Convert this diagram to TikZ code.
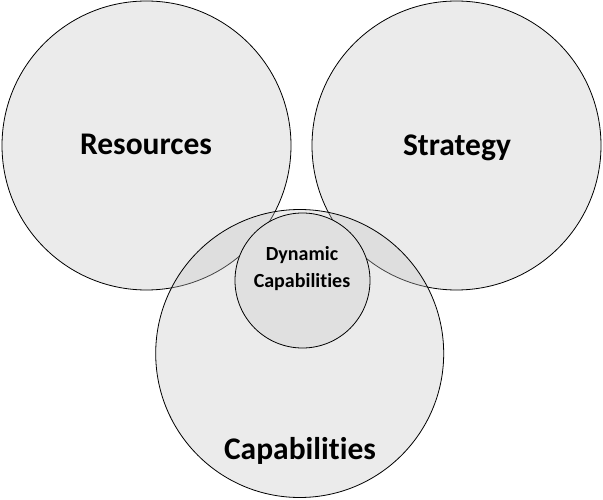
\documentclass[tikz,border=0pt]{standalone}
\usepackage{fontspec}
\setmainfont[Ligatures={NoCommon,NoRare,NoContextual}]{Carlito}
\definecolor{circfill}{HTML}{EBEBEB}
\definecolor{capfill}{HTML}{C6C6C6}
\definecolor{dynfill}{HTML}{E0E0E0}
\begin{document}
\begin{tikzpicture}[x=1pt,y=1pt,
  bigcirc/.style={circle,draw=black,line width=0.8pt,fill=circfill,minimum size=289pt,inner sep=0pt},
  capcirc/.style={circle,draw=black,line width=0.8pt,fill=capfill,fill opacity=0.35,draw opacity=1,minimum size=288pt,inner sep=0pt},
  dyncirc/.style={circle,draw=black,line width=0.8pt,fill=dynfill,minimum size=135pt,inner sep=0pt},
  biglabel/.style={font=\bfseries\fontsize{31.5}{38}\selectfont,inner sep=0pt,anchor=base},
  smalllabel/.style={font=\bfseries\fontsize{20}{27}\selectfont,inner sep=0pt,align=center}]
\useasboundingbox (0,0) rectangle (603,499);
\node[bigcirc] (res) at (146.5,353.5) {};
\node[bigcirc] (str) at (456.5,353.5) {};
\node[capcirc] (cap) at (299.7,145.5) {};
\node[dyncirc] (dyn) at (302.5,218.5) {};
\node[biglabel] (reslabel) at (146,344.3) {Resources};
\node[biglabel] (strlabel) at (457,343.5) {Strategy};
\node[biglabel] (caplabel) at (300,40) {Capabilities};
\node[smalllabel] (dynlabel) at (302,230) {Dynamic\\Capabilities};
\end{tikzpicture}
\end{document}
